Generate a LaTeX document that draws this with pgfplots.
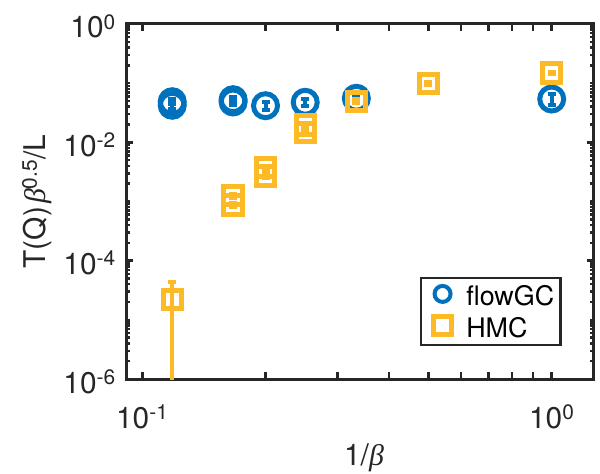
\documentclass[border=0pt]{standalone}
\usepackage{fontspec}
\setmainfont{TeX Gyre Heros}
\newfontfamily\betafont{Liberation Serif}
\newcommand{\bet}{{\betafont\itshape β}}
\usepackage{pgfplots}
\usepackage{pgfplotstable}
\pgfplotsset{compat=1.18}
\definecolor{mblue}{RGB}{0,114,189}
\definecolor{myellow}{RGB}{251,186,38}
\definecolor{axgray}{RGB}{38,38,38}

\pgfplotstableread{
x y e
0.11834 0.0486 0.005
0.11834 0.0423 0.005
0.16667 0.0526 0.006
0.16667 0.0481 0.006
0.2 0.0416 0.007
0.25 0.0475 0.006
0.33333 0.0555 0.007
1 0.0540 0.011
}\flowgc

\pgfplotstableread{
x y e
0.11834 2.19e-5 2.12e-5
0.16667 1.256e-3 1.0e-4
0.16667 8.73e-4 8e-5
0.2 3.73e-3 3e-4
0.2 2.70e-3 2.5e-4
0.25 0.0196 1.5e-3
0.25 0.0148 1.2e-3
0.33333 0.0494 4e-3
0.5 0.0976 6e-3
1 0.1485 8e-3
}\hmc

\begin{document}
\begin{tikzpicture}
\useasboundingbox (0,0) rectangle (600bp,474bp);
\begin{axis}[
  at={(126.5bp,95bp)}, anchor=south west,
  scale only axis, width=467bp, height=355bp,
  xmode=log, ymode=log,
  xmin=0.0915, xmax=1.265, ymin=1e-6, ymax=1,
  axis line style={line width=3bp, color=axgray},
  tick align=inside,
  tick style={line width=2.5bp, color=axgray},
  major tick length=7bp, minor tick length=4bp,
  xtick={0.1,0.2,0.3,0.4,0.5,0.6,0.7,0.8,0.9,1},
  xticklabels={{10\textsuperscript{-1}},{},{},{},{},{},{},{},{},{10\textsuperscript{0}}},
  minor xtick={},
  ytick={1e-6,1e-4,1e-2,1},
  yticklabels={{10\textsuperscript{-6}},{10\textsuperscript{-4}},{10\textsuperscript{-2}},{10\textsuperscript{0}}},
  minor ytick={2e-6,3e-6,4e-6,5e-6,6e-6,7e-6,8e-6,9e-6,1e-5,2e-5,3e-5,4e-5,5e-5,6e-5,7e-5,8e-5,9e-5,
    2e-4,3e-4,4e-4,5e-4,6e-4,7e-4,8e-4,9e-4,1e-3,2e-3,3e-3,4e-3,5e-3,6e-3,7e-3,8e-3,9e-3,
    2e-2,3e-2,4e-2,5e-2,6e-2,7e-2,8e-2,9e-2,1e-1,2e-1,3e-1,4e-1,5e-1,6e-1,7e-1,8e-1,9e-1},
  tick label style={font=\fontsize{30}{36}\selectfont, color=axgray},
  xticklabel style={anchor=base, inner sep=0pt, yshift=-49.3bp},
  yticklabel style={anchor=base east, inner sep=0pt, xshift=-10.5bp, yshift=-14bp},
  every axis x label/.style={at={(axis description cs:0.5,0)}, anchor=base, yshift=-86bp, xshift=4bp},
  every axis y label/.style={at={(axis description cs:0,0.5)}, xshift=-80.5bp, rotate=90, anchor=base},
  label style={font=\fontsize{30}{36}\selectfont, color=axgray},
  xlabel={1/\bet},
  ylabel={T(Q)\hspace{3bp}\bet\textsuperscript{0.5}/L},
  legend style={
    at={(0.9325,0.0918)}, anchor=south east,
    draw=axgray, line width=2.5bp, fill=white,
    inner xsep=6.5bp, inner ysep=8bp,
    font=\fontsize{27}{32}\selectfont,
    row sep=10.75bp, column sep=4.5bp,
    nodes={inner sep=0pt, text height=19.5bp, text depth=0pt},
  },
  legend cell align=left,
  legend image code/.code={\path (0bp,0bp) (32bp,0bp); \draw[#1] plot coordinates {(14bp,2bp)};},
]
\addplot[only marks, mark=o, mark size=12bp, color=mblue,
  mark options={line width=5bp, solid, fill=none},
  legend image post style={mark size=8bp, mark options={line width=4bp, solid, fill=none}},
  error bars/.cd, y dir=both, y explicit,
  error bar style={line width=4bp, color=mblue},
  error mark options={rotate=90, line width=4bp, mark size=4bp, color=mblue}]
  table[x=x, y=y, y error=e]{\flowgc};
\addlegendentry{flowGC}
\addplot[only marks, mark=square, mark size=9.2bp, color=myellow,
  mark options={line width=5bp, solid, fill=none},
  legend image post style={mark size=9bp, mark options={line width=4.5bp, solid, fill=none}},
  error bars/.cd, y dir=both, y explicit,
  error bar style={line width=4bp, color=myellow},
  error mark options={rotate=90, line width=4bp, mark size=4bp, color=myellow}]
  table[x=x, y=y, y error=e]{\hmc};
\addlegendentry{HMC}
\end{axis}
\end{tikzpicture}
\end{document}
